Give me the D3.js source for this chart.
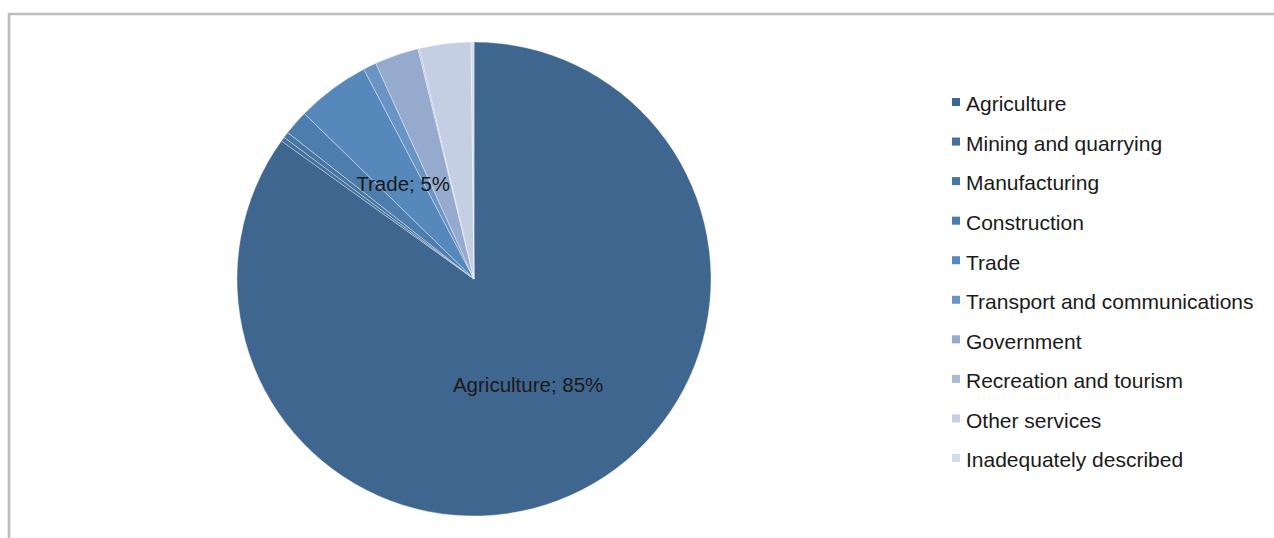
<!DOCTYPE html>
<html>
<head>
<meta charset="utf-8">
<script src="https://cdn.jsdelivr.net/npm/d3@7"></script>
<style>
  body { margin: 0; background: #fff; }
  text { font-family: "Liberation Sans", Arial, sans-serif; }
</style>
</head>
<body>
<div id="chart"></div>
<script>
var width = 1274,
    height = 538;

// sectors and their shares (%)
var sectors = ["Agriculture", "Mining and quarrying", "Manufacturing", "Construction", "Trade",
    "Transport and communications", "Government", "Recreation and tourism", "Other services",
    "Inadequately described"];
var shares = [84.9, 0.3, 0.4, 1.7, 5.0, 0.9, 3.0, 0.1, 3.5, 0.2];
var colours = ["#3f668f", "#43709c", "#4876a4", "#4c7dad", "#5688bb", "#6a94c4",
    "#95aacd", "#a9bad7", "#c4cfe3", "#d3dcea"];
// only these slices carry a data label
var labelled = ["Agriculture", "Trade"];

var data = sectors.map(function(s, i) { return {name: s, value: shares[i]}; });

var cx = 474, cy = 279, radius = 237;

var svg = d3.select("#chart").append("svg")
    .attr("width", width)
    .attr("height", height);

// frame, cut off at right and bottom
svg.append("rect")
    .attr("x", 9)
    .attr("y", 14)
    .attr("width", width + 20)
    .attr("height", height + 20)
    .attr("fill", "none")
    .attr("stroke", "#bdbdbd")
    .attr("stroke-width", 2.5);

var colour = d3.scaleOrdinal().domain(sectors).range(colours);

var pie = d3.pie()
    .sort(null)
    .value(function(d) { return d.value; });

var arc = d3.arc().innerRadius(0).outerRadius(radius);

var arcs = pie(data);

var g = svg.append("g")
    .attr("transform", "translate(" + cx + "," + cy + ")");

g.selectAll("path.slice")
    .data(arcs).enter().append("path")
    .attr("class", "slice")
    .attr("d", arc)
    .attr("fill", function(d) { return colour(d.data.name); })
    .attr("stroke", "#ffffff")
    .attr("stroke-opacity", 0.6)
    .attr("stroke-width", 0.6);

// data labels at half radius, mid-angle
var labelArc = d3.arc().innerRadius(radius * 0.5).outerRadius(radius * 0.5);

g.selectAll("text.dlabel")
    .data(arcs.filter(function(d) { return labelled.indexOf(d.data.name) >= 0; }))
    .enter().append("text")
    .attr("class", "dlabel")
    .attr("transform", function(d) {
        return "translate(" + labelArc.centroid(d) + ")";
    })
    .attr("text-anchor", "middle")
    .attr("dy", "0.35em")
    .attr("font-size", 20.5)
    .attr("fill", "#1a1a1a")
    .text(function(d) { return d.data.name + "; " + Math.round(d.data.value) + "%"; });

// legend
var legendY = d3.scalePoint()
    .domain(sectors)
    .range([104, 460]);

var legend = svg.selectAll("g.legend")
    .data(sectors).enter().append("g")
    .attr("class", "legend")
    .attr("transform", function(d) { return "translate(952," + legendY(d) + ")"; });

legend.append("rect")
    .attr("x", 0)
    .attr("y", -6)
    .attr("width", 8)
    .attr("height", 8)
    .attr("fill", function(d) { return colour(d); });

legend.append("text")
    .attr("x", 14)
    .attr("y", 0)
    .attr("dy", "0.35em")
    .attr("font-size", 21)
    .attr("fill", "#1a1a1a")
    .text(function(d) { return d; });
</script>
</body>
</html>
